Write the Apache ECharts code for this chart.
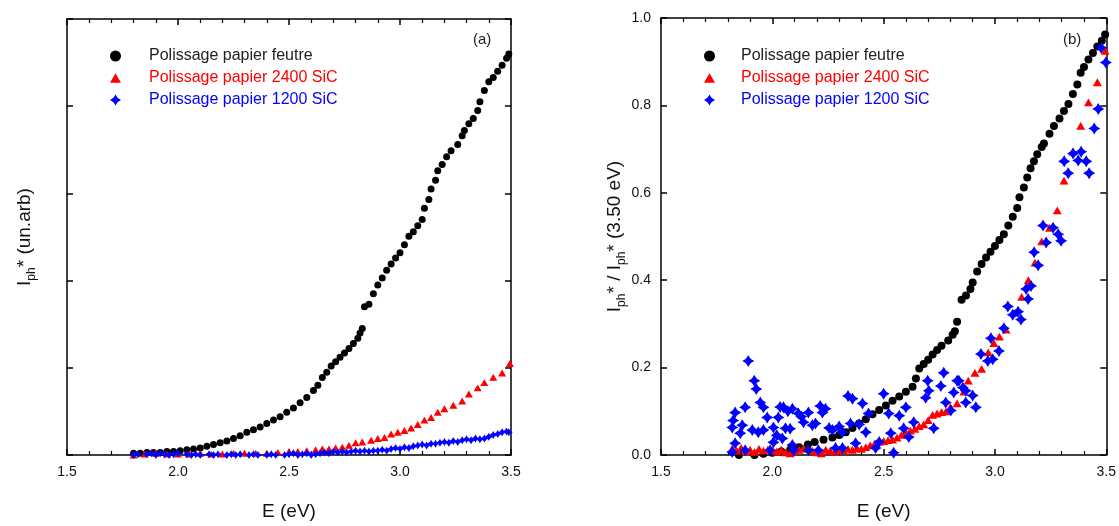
<!DOCTYPE html>
<html>
<head>
<meta charset="utf-8">
<script src="https://cdn.jsdelivr.net/npm/echarts@6/dist/echarts.min.js"></script>
<style>
html,body{margin:0;padding:0;background:#fff;}
#c{width:1119px;height:526px;}
</style>
</head>
<body>
<div id="c"></div>
<script>
// ---------- data (E in eV, photocurrent) ----------
var seriesNames = ['Polissage papier feutre', 'Polissage papier 2400 SiC', 'Polissage papier 1200 SiC'];
var xTicks = [1.5, 2.0, 2.5, 3.0, 3.5];
var yTicksRight = [0.0, 0.2, 0.4, 0.6, 0.8, 1.0];

// Panel (a): I_ph* (arbitrary units)
var feutreA = [[1.80,0.02],[1.83,0.02],[1.86,0.03],[1.89,0.03],[1.92,0.03],[1.95,0.04],[1.98,0.04],[2.01,0.05],[2.04,0.06],[2.07,0.07],[2.10,0.08],[2.13,0.10],[2.16,0.12],[2.19,0.14],[2.22,0.16],[2.25,0.19],[2.28,0.22],[2.31,0.26],[2.34,0.29],[2.37,0.32],[2.40,0.36],[2.43,0.40],[2.46,0.44],[2.49,0.49],[2.52,0.54],[2.55,0.60],[2.58,0.66],[2.61,0.74],[2.63,0.80],[2.65,0.89],[2.67,0.95],[2.69,1.02],[2.71,1.07],[2.73,1.12],[2.75,1.17],[2.77,1.22],[2.79,1.28],[2.81,1.34],[2.82,1.40],[2.83,1.45],[2.84,1.70],[2.86,1.73],[2.88,1.85],[2.90,1.95],[2.92,2.03],[2.94,2.12],[2.96,2.19],[2.98,2.26],[3.00,2.32],[3.02,2.41],[3.04,2.51],[3.06,2.56],[3.08,2.63],[3.10,2.70],[3.11,2.83],[3.13,2.93],[3.14,3.05],[3.16,3.15],[3.17,3.26],[3.19,3.33],[3.21,3.42],[3.23,3.49],[3.26,3.56],[3.28,3.66],[3.29,3.72],[3.31,3.80],[3.33,3.86],[3.35,3.95],[3.36,4.05],[3.38,4.18],[3.40,4.28],[3.42,4.33],[3.44,4.40],[3.46,4.47],[3.48,4.55],[3.49,4.60]];
var sic2400A = [[1.80,0.00],[1.85,0.01],[1.90,0.02],[1.95,0.01],[2.00,0.01],[2.05,0.01],[2.10,0.02],[2.15,0.01],[2.20,0.01],[2.25,0.02],[2.30,0.02],[2.35,0.02],[2.40,0.02],[2.45,0.03],[2.50,0.04],[2.54,0.04],[2.58,0.05],[2.62,0.06],[2.65,0.07],[2.68,0.07],[2.71,0.08],[2.74,0.09],[2.77,0.11],[2.80,0.14],[2.83,0.15],[2.87,0.17],[2.90,0.19],[2.93,0.20],[2.96,0.24],[2.99,0.26],[3.02,0.28],[3.05,0.31],[3.08,0.35],[3.11,0.40],[3.14,0.43],[3.17,0.49],[3.20,0.53],[3.24,0.57],[3.28,0.62],[3.31,0.70],[3.35,0.77],[3.38,0.83],[3.42,0.89],[3.46,0.94],[3.495,1.05]];
var sic1200A = [[1.80,0.00],[1.82,0.01],[1.84,-0.01],[1.86,0.01],[1.88,0.02],[1.90,0.00],[1.92,0.02],[1.94,0.01],[1.96,0.00],[1.98,0.01],[2.00,0.02],[2.02,-0.01],[2.04,0.01],[2.06,0.00],[2.08,0.01],[2.10,0.00],[2.12,-0.01],[2.14,0.01],[2.16,0.00],[2.18,0.01],[2.20,-0.01],[2.22,0.00],[2.24,0.01],[2.26,0.00],[2.28,0.01],[2.30,-0.01],[2.32,0.00],[2.34,0.01],[2.36,0.00],[2.38,-0.01],[2.40,0.00],[2.42,0.01],[2.44,0.00],[2.46,-0.01],[2.48,0.00],[2.50,0.01],[2.52,0.02],[2.54,0.00],[2.56,0.01],[2.58,0.02],[2.60,0.00],[2.62,0.01],[2.64,0.02],[2.66,0.03],[2.68,0.02],[2.70,0.04],[2.72,0.03],[2.74,0.04],[2.76,0.03],[2.78,0.04],[2.80,0.05],[2.82,0.04],[2.84,0.05],[2.86,0.04],[2.88,0.05],[2.90,0.05],[2.92,0.06],[2.94,0.05],[2.96,0.07],[2.98,0.08],[3.00,0.07],[3.02,0.09],[3.04,0.08],[3.06,0.10],[3.08,0.11],[3.10,0.12],[3.12,0.11],[3.14,0.13],[3.16,0.13],[3.18,0.14],[3.20,0.15],[3.22,0.14],[3.24,0.16],[3.26,0.15],[3.28,0.17],[3.30,0.18],[3.32,0.17],[3.34,0.19],[3.36,0.18],[3.38,0.19],[3.40,0.21],[3.42,0.23],[3.44,0.24],[3.46,0.26],[3.48,0.27],[3.49,0.26]];

// Panel (b): I_ph* / I_ph*(3.50 eV)
var feutreB = [[1.82,-0.005],[1.85,0.0],[1.88,-0.003],[1.92,0.0],[1.96,0.003],[2.00,0.005],[2.04,0.008],[2.08,0.012],[2.12,0.018],[2.16,0.024],[2.19,0.03],[2.23,0.035],[2.27,0.04],[2.30,0.046],[2.33,0.052],[2.36,0.062],[2.39,0.072],[2.42,0.082],[2.45,0.093],[2.48,0.103],[2.51,0.113],[2.54,0.124],[2.57,0.134],[2.60,0.145],[2.63,0.156],[2.645,0.175],[2.66,0.198],[2.68,0.208],[2.70,0.218],[2.72,0.230],[2.74,0.240],[2.76,0.250],[2.79,0.262],[2.81,0.275],[2.82,0.283],[2.83,0.305],[2.85,0.355],[2.87,0.365],[2.89,0.380],[2.90,0.395],[2.92,0.42],[2.94,0.437],[2.96,0.452],[2.98,0.465],[3.00,0.478],[3.02,0.492],[3.04,0.505],[3.06,0.525],[3.08,0.545],[3.10,0.565],[3.11,0.59],[3.13,0.612],[3.145,0.635],[3.16,0.656],[3.175,0.672],[3.19,0.688],[3.21,0.705],[3.22,0.713],[3.245,0.735],[3.265,0.753],[3.29,0.77],[3.31,0.787],[3.33,0.803],[3.35,0.826],[3.37,0.848],[3.385,0.875],[3.40,0.888],[3.42,0.905],[3.44,0.92],[3.46,0.935],[3.48,0.948],[3.495,0.962]];
var sic2400B = [[1.82,0.015],[1.84,0.010],[1.86,0.016],[1.88,0.008],[1.90,0.012],[1.92,0.007],[1.94,0.014],[1.96,0.010],[1.98,0.013],[2.00,0.011],[2.02,0.008],[2.04,0.012],[2.06,0.006],[2.08,0.004],[2.10,0.009],[2.12,0.012],[2.14,0.015],[2.16,0.014],[2.18,0.010],[2.20,0.006],[2.22,0.004],[2.24,0.012],[2.26,0.010],[2.28,0.008],[2.30,0.012],[2.32,0.010],[2.34,0.014],[2.36,0.012],[2.38,0.016],[2.40,0.014],[2.42,0.018],[2.44,0.022],[2.46,0.026],[2.48,0.03],[2.50,0.032],[2.52,0.034],[2.54,0.035],[2.56,0.040],[2.58,0.046],[2.60,0.052],[2.62,0.056],[2.64,0.060],[2.66,0.066],[2.68,0.070],[2.70,0.080],[2.72,0.092],[2.74,0.095],[2.76,0.098],[2.78,0.100],[2.80,0.110],[2.83,0.118],[2.86,0.145],[2.88,0.170],[2.91,0.188],[2.94,0.197],[2.97,0.235],[2.995,0.256],[3.02,0.271],[3.05,0.287],[3.09,0.325],[3.12,0.362],[3.15,0.40],[3.18,0.44],[3.21,0.489],[3.245,0.52],[3.28,0.56],[3.31,0.628],[3.35,0.694],[3.385,0.753],[3.42,0.807],[3.46,0.853],[3.495,0.925]];
var sic1200B = [[1.82,0.007],[1.82,0.063],[1.824,0.079],[1.833,0.097],[1.833,0.027],[1.856,0.05],[1.865,0.068],[1.878,0.109],[1.878,0.011],[1.892,0.215],[1.91,0.057],[1.919,0.17],[1.928,0.151],[1.937,0.052],[1.946,0.12],[1.96,0.109],[1.96,0.057],[1.977,0.086],[1.99,0.011],[2.005,0.063],[2.005,0.029],[2.02,0.045],[2.027,0.086],[2.035,0.11],[2.045,0.038],[2.05,0.109],[2.059,0.061],[2.07,0.1],[2.08,0.06],[2.09,0.106],[2.09,0.023],[2.095,0.011],[2.117,0.095],[2.13,0.088],[2.14,0.075],[2.162,0.097],[2.162,0.011],[2.18,0.068],[2.194,0.072],[2.207,0.011],[2.215,0.112],[2.225,0.097],[2.239,0.106],[2.255,0.062],[2.27,0.057],[2.284,0.016],[2.3,0.065],[2.315,0.052],[2.315,0.016],[2.34,0.135],[2.351,0.072],[2.36,0.129],[2.374,0.027],[2.39,0.07],[2.405,0.118],[2.42,0.052],[2.432,0.095],[2.464,0.016],[2.48,0.03],[2.50,0.14],[2.523,0.095],[2.532,0.05],[2.545,0.005],[2.57,0.09],[2.59,0.061],[2.60,0.109],[2.613,0.041],[2.635,0.075],[2.689,0.131],[2.698,0.17],[2.703,0.147],[2.725,0.061],[2.757,0.158],[2.77,0.188],[2.779,0.12],[2.802,0.102],[2.815,0.143],[2.83,0.17],[2.838,0.17],[2.856,0.154],[2.869,0.12],[2.869,0.147],[2.90,0.136],[2.914,0.109],[2.937,0.231],[2.968,0.215],[2.982,0.267],[2.99,0.219],[3.018,0.238],[3.04,0.29],[3.058,0.34],[3.08,0.321],[3.104,0.328],[3.117,0.31],[3.14,0.38],[3.149,0.357],[3.162,0.387],[3.176,0.464],[3.194,0.434],[3.216,0.525],[3.23,0.486],[3.261,0.52],[3.284,0.505],[3.297,0.49],[3.311,0.672],[3.329,0.645],[3.351,0.69],[3.374,0.674],[3.387,0.694],[3.41,0.672],[3.423,0.645],[3.446,0.747],[3.464,0.792],[3.477,0.932],[3.498,0.898]];

// ---------- styling ----------
var FONT = '"Liberation Sans", Arial, Helvetica, sans-serif';
var colors = ['#000000', '#ff0000', '#0000ff'];
var starPath = 'path://M0,-10L3,-5L5,-3L10,0L5,3L3,5L0,10L-3,5L-5,3L-10,0L-5,-3L-3,-5Z';
var triPath = 'path://M0,0L10,17.3L-10,17.3Z';
var symbols = ['circle', triPath, starPath];

function xAx(grid, pos, showLabel) {
  return {
    type: 'value', gridIndex: grid, position: pos,
    min: 1.5, max: 3.5, interval: 0.5,
    axisLine: {show: true, onZero: false, lineStyle: {color: '#000', width: 1.5}},
    axisTick: {show: true, inside: true, length: 6, lineStyle: {color: '#000', width: 1.5}},
    minorTick: {show: true, splitNumber: 5, length: 4, lineStyle: {color: '#000', width: 1.2}},
    splitLine: {show: false},
    axisLabel: {show: showLabel, fontFamily: FONT, fontSize: 14, color: '#111', margin: 10,
      formatter: function (v) { return v.toFixed(1); }},
    name: showLabel ? 'E (eV)' : '', nameLocation: 'middle', nameGap: 47,
    nameTextStyle: {fontFamily: FONT, fontSize: 19, color: '#111'}
  };
}
function yAx(grid, pos, min, max, interval, showLabel, name, nameGap) {
  return {
    type: 'value', gridIndex: grid, position: pos,
    min: min, max: max, interval: interval,
    axisLine: {show: true, onZero: false, lineStyle: {color: '#000', width: 1.5}},
    axisTick: {show: true, inside: true, length: 6, lineStyle: {color: '#000', width: 1.5}},
    splitLine: {show: false},
    axisLabel: {show: showLabel, fontFamily: FONT, fontSize: 14, color: '#111', margin: 10,
      formatter: function (v) { return v.toFixed(1); }},
    name: name || '', nameLocation: 'middle', nameRotate: 90, nameGap: nameGap || 30,
    nameTextStyle: {
      fontFamily: FONT, fontSize: 19, color: '#111',
      rich: {
        i: {fontFamily: FONT, fontSize: 19, color: '#111', lineHeight: 26, verticalAlign: 'middle'},
        s: {fontFamily: FONT, fontSize: 12, color: '#111', lineHeight: 14, verticalAlign: 'bottom'}
      }
    }
  };
}

var panels = [
  {grid: 0, data: [feutreA, sic2400A, sic1200A], sizes: [7, 8, 8]},
  {grid: 1, data: [feutreB, sic2400B, sic1200B], sizes: [8, 9, 12]}
];
var series = [];
panels.forEach(function (p) {
  p.data.forEach(function (d, k) {
    series.push({
      type: 'scatter', name: seriesNames[k],
      xAxisIndex: p.grid * 2, yAxisIndex: p.grid * 2,
      data: d, symbol: symbols[k], symbolSize: p.sizes[k], symbolKeepAspect: true,
      itemStyle: {color: colors[k], opacity: 1},
      emphasis: {disabled: true}, silent: true, z: 3 + k
    });
  });
});

function legendFor(left, top, pad) {
  return {
    left: left, top: top, orient: 'vertical', itemWidth: 11, itemHeight: 11, itemGap: 6,
    selectedMode: false, symbolKeepAspect: true,
    textStyle: {fontFamily: FONT, fontSize: 16, padding: [0, 0, 0, pad]},
    data: seriesNames.map(function (n, k) {
      return {name: n, icon: symbols[k], itemStyle: {color: colors[k]},
        textStyle: {color: k === 0 ? '#222' : colors[k], padding: [0, 0, 0, pad]}};
    })
  };
}

var option = {
  animation: false,
  backgroundColor: '#fff',
  grid: [
    {left: 67, top: 19, width: 444, height: 441},
    {left: 661, top: 18, width: 446, height: 442}
  ],
  xAxis: [xAx(0, 'bottom', true), xAx(0, 'top', false), xAx(1, 'bottom', true), xAx(1, 'top', false)],
  yAxis: [
    yAx(0, 'left', 0, 5, 1, false, '{i|I}{s|ph}{i|* (un.arb)}', 29),
    yAx(0, 'right', 0, 5, 1, false, ''),
    yAx(1, 'left', 0, 1, 0.2, true, '{i|I}{s|ph}{i|* / I}{s|ph}{i|* (3.50 eV)}', 22),
    yAx(1, 'right', 0, 1, 0.2, false, '')
  ],
  legend: [legendFor(105, 43, 23), legendFor(699, 43, 21)],
  graphic: [
    {type: 'text', left: 473, top: 32, style: {text: '(a)', fontFamily: FONT, fontSize: 15, fill: '#222'}},
    {type: 'text', left: 1063, top: 32, style: {text: '(b)', fontFamily: FONT, fontSize: 15, fill: '#222'}}
  ],
  series: series
};
var chart = echarts.init(document.getElementById('c'), null, {renderer: 'canvas'});
chart.setOption(option);
</script>
</body>
</html>
